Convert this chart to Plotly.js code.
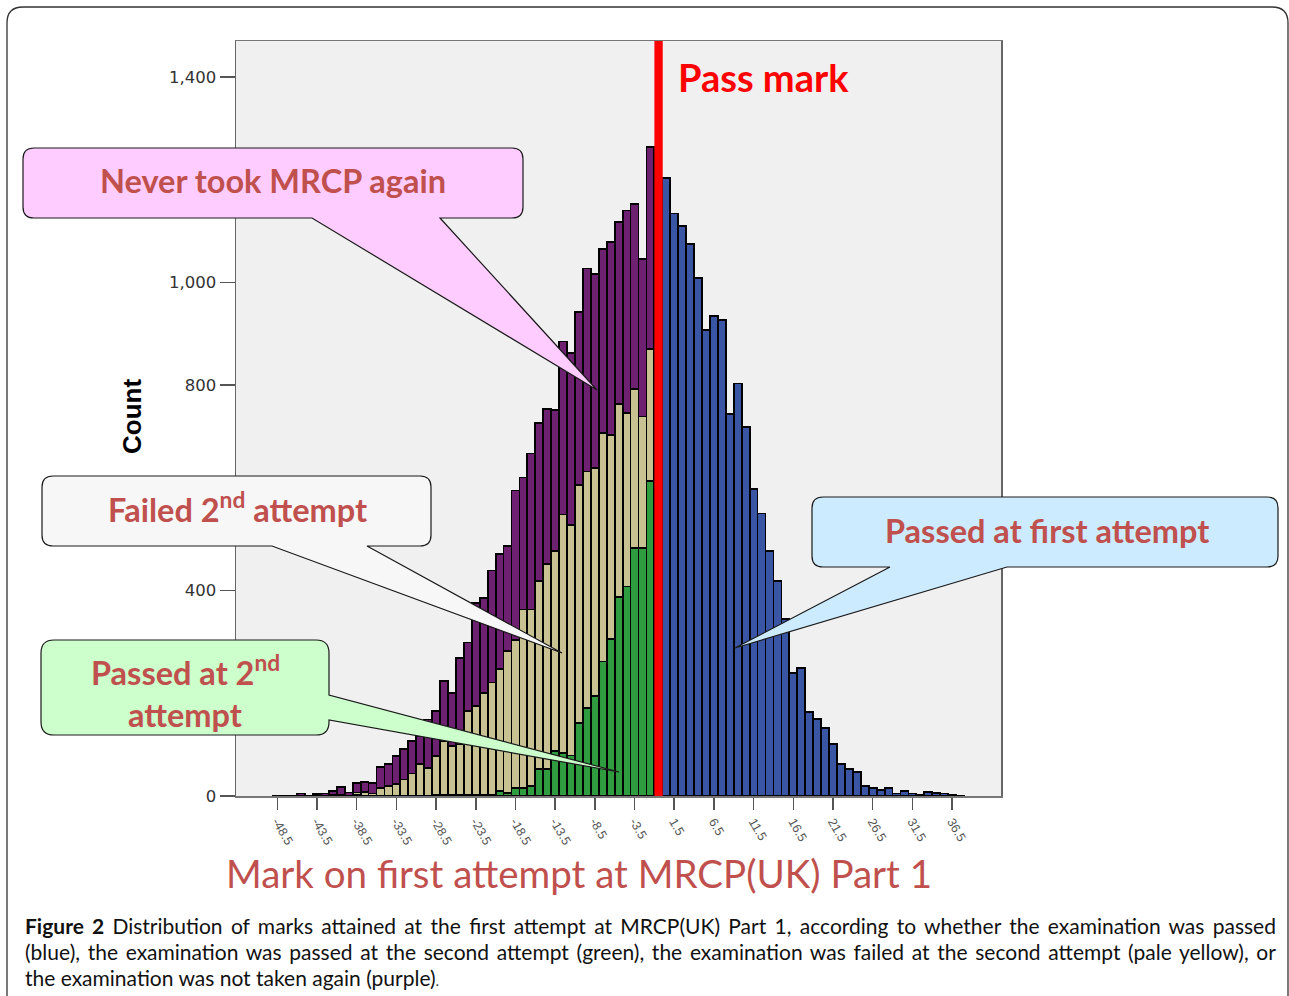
<!DOCTYPE html>
<html>
<head>
<meta charset="utf-8">
<script src="https://cdn.plot.ly/plotly-3.0.1.min.js"></script>
<style>html,body{margin:0;padding:0;background:#fff;}#chart{width:1289px;height:996px;}</style>
</head>
<body>
<div id="chart"></div>
<script>
// ---------- DATA ----------
const negBins = [-48.5,-47.5,-46.5,-45.5,-44.5,-43.5,-42.5,-41.5,-40.5,-39.5,-38.5,-37.5,-36.5,-35.5,-34.5,-33.5,-32.5,-31.5,-30.5,-29.5,-28.5,-27.5,-26.5,-25.5,-24.5,-23.5,-22.5,-21.5,-20.5,-19.5,-18.5,-17.5,-16.5,-15.5,-14.5,-13.5,-12.5,-11.5,-10.5,-9.5,-8.5,-7.5,-6.5,-5.5,-4.5,-3.5,-2.5,-1.5];
const passedSecond = [0,0,0,0,0,0,0,0,0,0,2,0,0,0,0,1,1,1,1,1,2,2,2,2,2,2,2,3,10,6,15,16,19,52,52,88,84,79,142,172,195,262,305,387,408,483,483,613];
const failedSecond = [0,0,0,0,0,0,0,2,3,1,5,8,5,16,19,22,31,43,61,54,76,105,95,99,163,173,199,218,237,276,288,347,344,367,400,389,464,448,463,460,443,445,398,377,337,310,256,257];
const neverAgain = [1,1,1,5,1,4,5,7,15,6,18,20,21,40,43,55,59,63,55,94,87,117,104,168,134,201,185,218,224,205,292,257,304,308,301,274,337,335,338,395,379,358,376,353,395,359,307,394];
const posBins = [0.5,1.5,2.5,3.5,4.5,5.5,6.5,7.5,8.5,9.5,10.5,11.5,12.5,13.5,14.5,15.5,16.5,17.5,18.5,19.5,20.5,21.5,22.5,23.5,24.5,25.5,26.5,27.5,28.5,29.5,30.5,31.5,32.5,33.5,34.5,35.5,36.5,37.5];
const passedFirst = [1204,1134,1110,1074,1008,907,935,927,743,803,719,597,550,477,419,345,239,250,164,150,133,101,62,52,47,19,16,12,15,5,9,5,2,8,6,5,2,1];
const xTickVals = [-48.5,-43.5,-38.5,-33.5,-28.5,-23.5,-18.5,-13.5,-8.5,-3.5,1.5,6.5,11.5,16.5,21.5,26.5,31.5,36.5];
const xTickText = ["-48.5","-43.5","-38.5","-33.5","-28.5","-23.5","-18.5","-13.5","-8.5","-3.5","1.5","6.5","11.5","16.5","21.5","26.5","31.5","36.5"];
const yTickVals = [0, 400, 800, 1000, 1400];
const yTickText = ["0", "400", "800", "1,000", "1,400"];
const passMark = [-1, 0.05];

// ---------- GEOMETRY HELPERS (pixel -> paper) ----------
const PL = 236, PR = 1001, PT = 41, PB = 796;
const fx = p => (p - PL) / (PR - PL);
const fy = p => (PB - p) / (PB - PT);
const P = (x, y) => fx(x).toFixed(5) + ',' + fy(y).toFixed(5);

function bubble(x0, y0, x1, y1, r, ptr) {
  let d = 'M' + P(x0 + r, y0) + ' L' + P(x1 - r, y0) + ' Q' + P(x1, y0) + ' ' + P(x1, y0 + r);
  if (ptr && ptr.edge === 'right') d += ' L' + P(x1, ptr.a) + ' L' + P(ptr.tip[0], ptr.tip[1]) + ' L' + P(x1, ptr.b);
  d += ' L' + P(x1, y1 - r) + ' Q' + P(x1, y1) + ' ' + P(x1 - r, y1);
  if (ptr && ptr.edge === 'bottom') d += ' L' + P(ptr.b, y1) + ' L' + P(ptr.tip[0], ptr.tip[1]) + ' L' + P(ptr.a, y1);
  d += ' L' + P(x0 + r, y1) + ' Q' + P(x0, y1) + ' ' + P(x0, y1 - r) + ' L' + P(x0, y0 + r) + ' Q' + P(x0, y0) + ' ' + P(x0 + r, y0) + ' Z';
  return d;
}
function bubbleShape(d, fill) {
  return {type: 'path', xref: 'paper', yref: 'paper', path: d, fillcolor: fill,
          line: {color: '#1a1a1a', width: 1.2}, layer: 'above'};
}
const calloutRed = '#c0504d';
const calloutFont = {family: 'Lato, "Open Sans", sans-serif', size: 32.5, color: calloutRed, weight: 'bold'};
function ann(text, x, y, extra) {
  return Object.assign({text: text, xref: 'paper', yref: 'paper', x: fx(x), y: fy(y),
    xanchor: 'center', yanchor: 'middle', showarrow: false}, extra || {});
}

// ---------- TRACES ----------
const edge = {color: '#000', width: 1.8};
const traces = [
  {type: 'bar', name: 'Passed at 2nd attempt', x: negBins, y: passedSecond, marker: {color: '#2e9c3f', line: edge}},
  {type: 'bar', name: 'Failed 2nd attempt', x: negBins, y: failedSecond, marker: {color: '#c8c192', line: edge}},
  {type: 'bar', name: 'Never took MRCP again', x: negBins, y: neverAgain, marker: {color: '#6e2170', line: edge}},
  {type: 'bar', name: 'Passed at first attempt', x: posBins, y: passedFirst, marker: {color: '#3a55a4', line: edge}}
];

// ---------- LAYOUT ----------
const captionFont = {family: 'Lato, "Open Sans", sans-serif', size: 21, color: '#111'};
const layout = {
  width: 1289, height: 996,
  margin: {l: PL, r: 1289 - PR, t: PT, b: 996 - PB, pad: 0},
  paper_bgcolor: '#ffffff', plot_bgcolor: '#f0f0f0',
  barmode: 'stack', bargap: 0, showlegend: false,
  xaxis: {range: [-53.7, 42.66], tickmode: 'array', tickvals: xTickVals, ticktext: xTickText,
          tickangle: 60, ticks: 'outside', ticklen: 12, tickwidth: 1.5, tickcolor: '#555',
          tickfont: {family: '"Liberation Sans", Arial, sans-serif', size: 12.5, color: '#555'},
          showline: true, mirror: true, linecolor: '#777', linewidth: 1.5,
          showgrid: false, zeroline: false, fixedrange: true},
  yaxis: {range: [0, 1470], tickmode: 'array', tickvals: yTickVals, ticktext: yTickText,
          ticks: 'outside', ticklen: 15, tickwidth: 1.5,
          tickcolor: '#555', tickfont: {family: '"DejaVu Sans", sans-serif', size: 16.5, color: '#333'},
          showline: true, mirror: true, linecolor: '#666', linewidth: 1.5,
          showgrid: false, zeroline: false, fixedrange: true},
  shapes: [
    {type: 'rect', xref: 'x', yref: 'paper', x0: passMark[0], x1: passMark[1], y0: 0, y1: 1,
     fillcolor: '#ff0000', line: {width: 0}, layer: 'above'},
    bubbleShape(bubble(23, 148, 523, 218, 11, {edge: 'bottom', a: 312, b: 440, tip: [597, 390]}), '#ffccff'),
    bubbleShape(bubble(42, 476, 431, 546, 11, {edge: 'bottom', a: 272, b: 367, tip: [562, 653]}), '#f7f7f7'),
    bubbleShape(bubble(41, 640, 329, 735, 13, {edge: 'right', a: 695, b: 720, tip: [619, 772]}), '#ccffcc'),
    bubbleShape(bubble(812, 497, 1278, 567, 11, {edge: 'bottom', a: 890, b: 1007, tip: [735, 648]}), '#cdebff'),
    {type: 'path', xref: 'paper', yref: 'paper', path: bubble(7, 7, 1288, 1030, 16, null),
     fillcolor: 'rgba(0,0,0,0)', line: {color: '#333', width: 1.3}, layer: 'above'}
  ],
  annotations: [
    ann('Pass mark', 676, 77, {xanchor: 'left', font: {family: 'Lato, "Open Sans", sans-serif', size: 38, color: '#ff0000', weight: 'bold'}}),
    ann('Never took MRCP again', 273, 181, {font: calloutFont}),
    ann('Failed 2<sup>nd</sup> attempt', 237, 508, {font: calloutFont}),
    ann('Passed at 2<sup>nd</sup>', 185, 670, {font: calloutFont}),
    ann('attempt', 185, 714, {font: calloutFont}),
    ann('Passed at first attempt', 1047, 530, {font: calloutFont}),
    ann('Count', 132, 417, {textangle: -90, font: {family: '"Liberation Sans", Arial, sans-serif', size: 26, color: '#000', weight: 'bold'}}),
    ann('Mark on first attempt at MRCP(UK) Part 1', 579, 873, {font: {family: 'Lato, "Open Sans", sans-serif', size: 38.5, color: calloutRed}}),
    ann('<b>Figure 2</b> Distribution of marks attained at the first attempt at MRCP(UK) Part 1, according to whether the examination was passed',
        23, 925, {xanchor: 'left', align: 'left', font: captionFont}),
    ann('(blue), the examination was passed at the second attempt (green), the examination was failed at the second attempt (pale yellow), or',
        23, 951, {xanchor: 'left', align: 'left', font: captionFont}),
    ann('the examination was not taken again (purple)<span style="font-size:13px">.</span>',
        23, 977, {xanchor: 'left', align: 'left', font: captionFont})
  ]
};

Plotly.newPlot('chart', traces, layout, {displayModeBar: false, staticPlot: true}).then(function (gd) {
  // justify the first two caption lines
  const target = 1274 - 23;
  gd.querySelectorAll('text.annotation-text').forEach(function (t) {
    const s = t.textContent;
    if (s.indexOf('Figure 2') === 0 || s.indexOf('(blue)') === 0) {
      const w = t.getComputedTextLength();
      const n = (s.match(/ /g) || []).length;
      if (n > 0) t.style.wordSpacing = ((target - w) / n).toFixed(2) + 'px';
    }
  });
});
</script>
</body>
</html>
